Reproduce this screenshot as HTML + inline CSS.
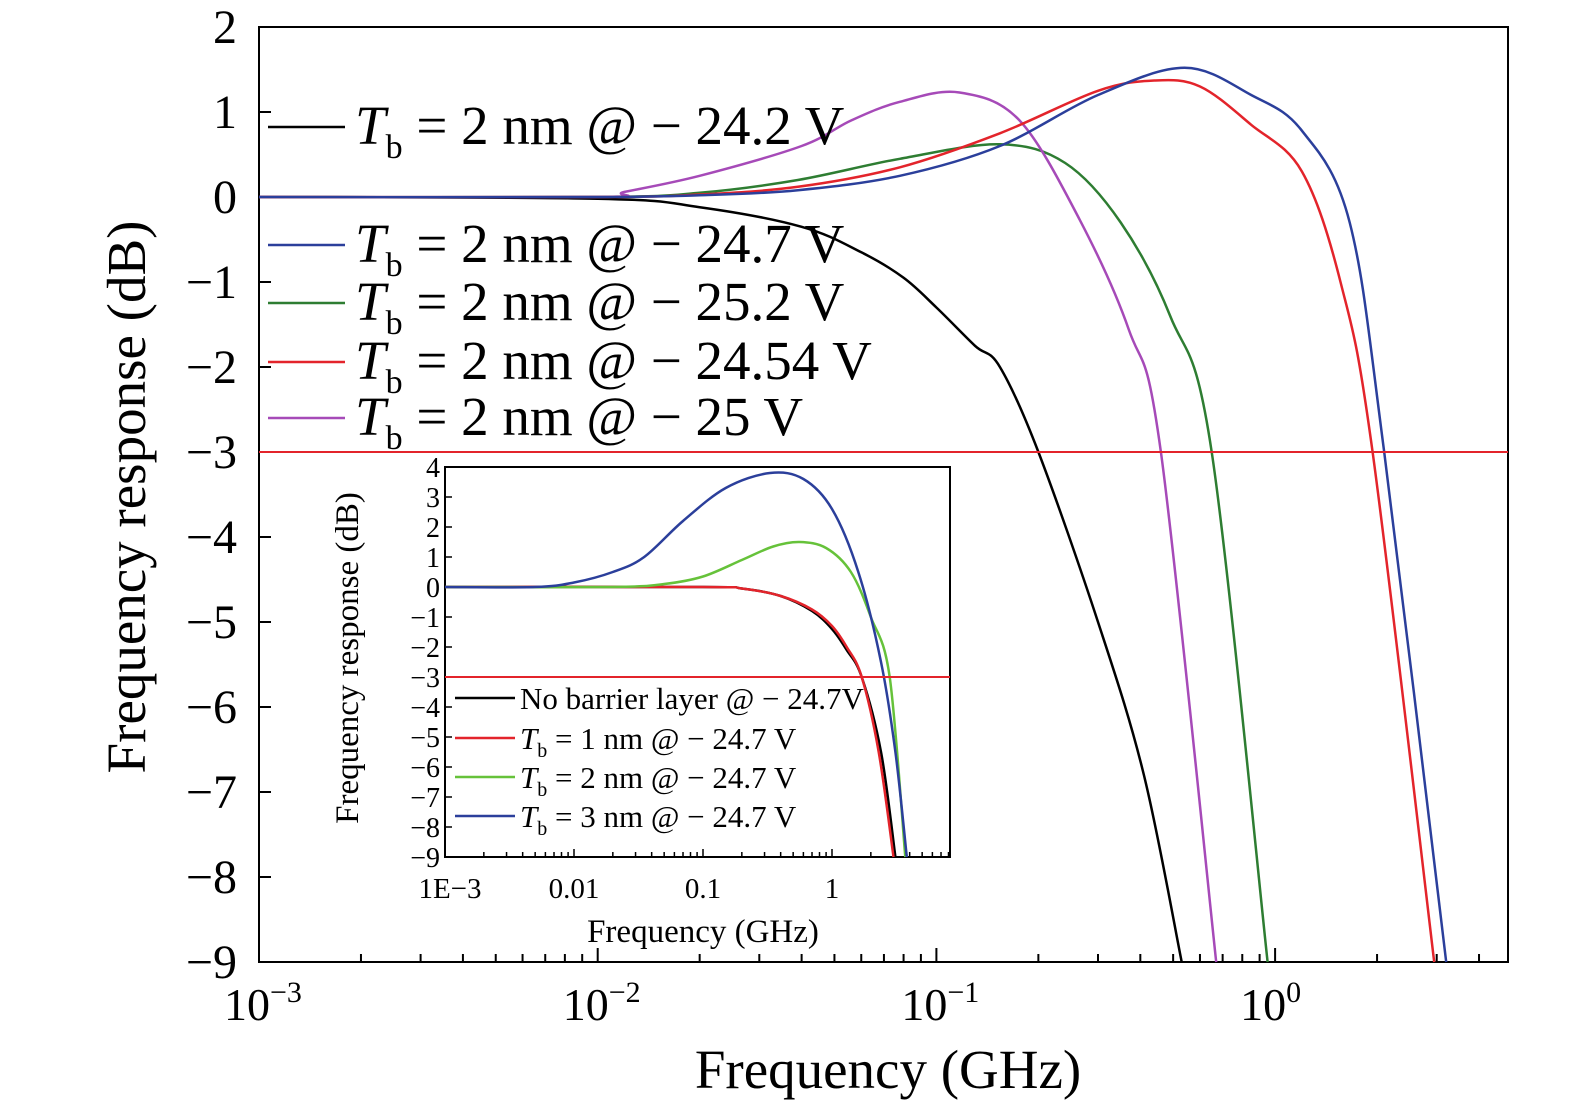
<!DOCTYPE html>
<html><head><meta charset="utf-8"><style>
body{margin:0;background:#fff}
svg{display:block;font-family:"Liberation Serif",serif}
</style></head><body>
<svg id="c" width="1575" height="1109" viewBox="0 0 1575 1109"></svg>
<script>
const mainSeriesNames=["black","blue","green","red","purple"];
const mainColors={black:"#000",blue:"#2b3f9b",green:"#2e7d32",red:"#e3242b",purple:"#a64ab8"};
const blackF=[0.001,0.01,0.02,0.04,0.06,0.08,0.1,0.13,0.154,0.2,0.3,0.41,0.53];
const blackV=[0,-0.02,-0.12,-0.35,-0.65,-0.95,-1.3,-1.75,-2.0,-3.0,-5.0,-6.8,-9];
const purpleF=[0.001,0.01,0.012,0.02,0.04,0.056,0.078,0.117,0.176,0.265,0.37,0.46,0.67];
const purpleV=[0,0,0.06,0.25,0.6,0.9,1.12,1.23,0.9,-0.27,-1.56,-3,-9];
const greenF=[0.001,0.01,0.02,0.039,0.078,0.154,0.24,0.35,0.49,0.65,0.95];
const greenV=[0,0,0.05,0.2,0.45,0.62,0.4,-0.3,-1.4,-3,-9];
const redF=[0.001,0.01,0.02,0.039,0.078,0.154,0.3,0.44,0.6,0.85,1.2,1.56,1.94,2.95];
const redV=[0,0,0.03,0.12,0.35,0.75,1.25,1.37,1.3,0.85,0.3,-1,-3,-9];
const blueF=[0.001,0.01,0.02,0.039,0.078,0.154,0.3,0.54,0.85,1.2,1.66,2.1,3.2];
const blueV=[0,0,0.02,0.08,0.25,0.6,1.2,1.52,1.2,0.78,-0.3,-3,-9];
const legendLabels=["− 24.2 V","− 24.7 V","− 25.2 V","− 24.54 V","− 25 V"];
const yTicks=[2,1,0,-1,-2,-3,-4,-5,-6,-7,-8,-9];
const xTickExp=[-3,-2,-1,0];
const insetNames=["noBarrier","tb1","tb2","tb3"];
const insetColors=["#000","#e3242b","#66c23a","#2b3f9b"];
const nbF=[0.001,0.1,0.2,0.4,0.7,1.0,1.3,1.7,2.4,3.1];
const nbV=[0,0,-0.05,-0.3,-0.8,-1.4,-2.1,-3,-5.5,-9];
const t1F=[0.001,0.1,0.2,0.4,0.7,1.0,1.3,1.7,2.3,3.0];
const t1V=[0,0,-0.05,-0.3,-0.75,-1.3,-2.0,-3,-5.5,-9];
const t2F=[0.001,0.02,0.05,0.1,0.2,0.35,0.56,0.9,1.4,2.0,2.8,3.7];
const t2V=[0,0,0.1,0.35,0.9,1.35,1.5,1.3,0.5,-1,-3,-9];
const t3F=[0.001,0.005,0.01,0.02,0.035,0.07,0.15,0.33,0.6,1.0,1.6,2.4,3.1,3.8];
const t3V=[0,0,0.15,0.5,1,2.2,3.3,3.8,3.6,2.6,0.5,-2.5,-5.5,-9];
const insetLegend=["No barrier layer @ − 24.7V","1 nm @ − 24.7 V","2 nm @ − 24.7 V","3 nm @ − 24.7 V"];
const insetYTicks=[4,3,2,1,0,-1,-2,-3,-4,-5,-6,-7,-8,-9];
const insetXTicks=["1E−3","0.01","0.1","1"];

const NS="http://www.w3.org/2000/svg",svg=document.getElementById('c');
function el(t,a,p){const e=document.createElementNS(NS,t);for(const k in a)e.setAttribute(k,a[k]);(p||svg).appendChild(e);return e;}
const X0=259,X1=1508,Y0=27,Y1=962,DEC=338.7;
const mx=f=>X0+(Math.log10(f)+3)*DEC, my=v=>Y0+(2-v)*(Y1-Y0)/11;
function path(F,V,xf,yf,col,w,name,parent){
 const P=F.map((f,i)=>[xf(f),yf(V[i])]);
 let d="M"+P[0][0].toFixed(1)+","+P[0][1].toFixed(1);
 for(let i=0;i<P.length-1;i++){
  const p0=P[Math.max(0,i-1)],p1=P[i],p2=P[i+1],p3=P[Math.min(P.length-1,i+2)];
  const c1=[p1[0]+(p2[0]-p0[0])/6,p1[1]+(p2[1]-p0[1])/6],c2=[p2[0]-(p3[0]-p1[0])/6,p2[1]-(p3[1]-p1[1])/6];
  d+="C"+c1.map(v=>v.toFixed(1))+" "+c2.map(v=>v.toFixed(1))+" "+p2.map(v=>v.toFixed(1));
 }
 const p=el("path",{d,fill:"none",stroke:col,"stroke-width":w,"stroke-linejoin":"round"},parent);
 
 
}
const frame=el("rect",{x:X0,y:Y0,width:X1-X0,height:Y1-Y0,fill:"none",stroke:"#000","stroke-width":2});


yTicks.forEach(v=>{
 el("line",{x1:X0,x2:X0+12,y1:my(v),y2:my(v),stroke:"#000","stroke-width":2});
 const t=el("text",{x:X0-22,y:my(v)+16,"font-size":48,"text-anchor":"end"});t.textContent=v<0?"−"+(-v):v;
 
 
});
for(let e=-3;e<1;e++)for(let m=1;m<10;m++){const f=m*Math.pow(10,e),x=mx(f);if(x>X1)break;
 el("line",{x1:x,x2:x,y1:Y1,y2:Y1-(m==1?14:8),stroke:"#000","stroke-width":2});}
xTickExp.forEach(e=>{const t=el("text",{x:mx(Math.pow(10,e))-35,y:1020,"font-size":46});
 t.innerHTML='10<tspan dy="-18" font-size="30">'+(e<0?"−"+(-e):e)+'</tspan>';
 
 });
let t=el("text",{x:888,y:1088,"font-size":55,"text-anchor":"middle"});t.textContent="Frequency (GHz)";

t=el("text",{x:145,y:497,"font-size":55,"text-anchor":"middle",transform:"rotate(-90 145 497)"});t.textContent="Frequency response (dB)";

const series={black:[blackF,blackV],blue:[blueF,blueV],green:[greenF,greenV],red:[redF,redV],purple:[purpleF,purpleV]};
["black","green","purple","red","blue"].forEach(n=>path(series[n][0],series[n][1],mx,my,mainColors[n],2.5,'series-'+n));
const ref=el("line",{x1:X0,x2:X1,y1:my(-3),y2:my(-3),stroke:"#e3242b","stroke-width":2});

const legY=[127,245,303,362,418];
mainSeriesNames.forEach((n,i)=>{
 el("line",{x1:268,x2:345,y1:legY[i],y2:legY[i],stroke:mainColors[n],"stroke-width":2.5});
 const tx=el("text",{x:355,y:legY[i]+17,"font-size":55});
 tx.innerHTML='<tspan font-style="italic">T</tspan><tspan dy="14" font-size="34">b</tspan><tspan dy="-14"> = 2 nm @ '+legendLabels[i]+'</tspan>';
 
 
});
const g=el("g",{});
const IX0=445,IX1=950,IY0=467,IY1=857,IDEC=129;
const ix=f=>IX0+(Math.log10(f)+3)*IDEC, iy=v=>IY0+(4-v)*(IY1-IY0)/13;
el("rect",{x:IX0,y:IY0,width:IX1-IX0,height:IY1-IY0,fill:"#fff",stroke:"#000","stroke-width":2},g);
insetYTicks.forEach(v=>{el("line",{x1:IX0,x2:IX0+7,y1:iy(v),y2:iy(v),stroke:"#000","stroke-width":1.5},g);
 const tt=el("text",{x:IX0-5,y:iy(v)+10,"font-size":28,"text-anchor":"end"},g);tt.textContent=v<0?"−"+(-v):v;
 });
for(let e=-3;e<1;e++)for(let m=1;m<10;m++){const x=ix(m*Math.pow(10,e));if(x>IX1)break;
 el("line",{x1:x,x2:x,y1:IY1,y2:IY1-(m==1?8:5),stroke:"#000","stroke-width":1.5},g);}
insetXTicks.forEach((s,i)=>{const tt=el("text",{x:IX0+i*IDEC+(i==0?5:0),y:898,"font-size":29,"text-anchor":"middle"},g);tt.textContent=s;
 });
t=el("text",{x:703,y:942,"font-size":33,"text-anchor":"middle"},g);t.textContent="Frequency (GHz)";

t=el("text",{x:358,y:658,"font-size":33,"text-anchor":"middle",transform:"rotate(-90 358 658)"},g);t.textContent="Frequency response (dB)";

const iser=[[nbF,nbV],[t1F,t1V],[t2F,t2V],[t3F,t3V]];
iser.forEach((s,i)=>path(s[0],s[1],ix,iy,insetColors[i],2.5,'inset-series-'+insetNames[i],g));
const ir=el("line",{x1:IX0,x2:IX1,y1:iy(-3),y2:iy(-3),stroke:"#e3242b","stroke-width":2},g);

const ilY=[698,738,777,816];
insetLegend.forEach((s,i)=>{
 el("line",{x1:455,x2:515,y1:ilY[i],y2:ilY[i],stroke:insetColors[i],"stroke-width":2.5},g);
 const tt=el("text",{x:520,y:ilY[i]+11,"font-size":31},g);
 tt.innerHTML=i==0?s:'<tspan font-style="italic">T</tspan><tspan dy="8" font-size="20">b</tspan><tspan dy="-8"> = '+s+'</tspan>';
 
});
</script>
</body></html>
